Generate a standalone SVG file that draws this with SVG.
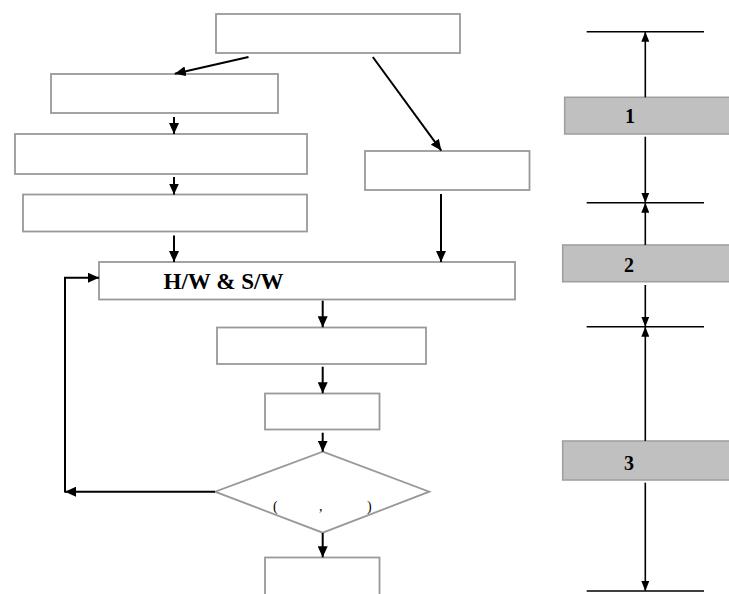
<svg xmlns="http://www.w3.org/2000/svg" width="729" height="594" viewBox="0 0 729 594">
<style>
.box{fill:#ffffff;stroke:#999999;stroke-width:1.8}
.gbox{fill:#c0c0c0;stroke:#a0a0a0;stroke-width:1.6}
.c{fill:none;stroke:#000000;stroke-width:2}
.cr{fill:none;stroke:#000000;stroke-width:1.6}
.t{font-family:"Liberation Serif","Times New Roman",serif;font-weight:bold;fill:#000000}
.tn{font-family:"Liberation Serif","Times New Roman",serif;font-weight:normal;fill:#000000}
</style>
<defs>
<marker id="ah" markerUnits="userSpaceOnUse" markerWidth="11" markerHeight="10" refX="11" refY="5" orient="auto">
<path d="M0,0 L11,5 L0,10 z" fill="#000000"/>
</marker>
<marker id="ahr" markerUnits="userSpaceOnUse" markerWidth="10" markerHeight="8" refX="10" refY="4" orient="auto">
<path d="M0,0 L10,4 L0,8 z" fill="#000000"/>
</marker>
</defs>
<rect width="729" height="594" fill="#ffffff"/>

<g id="node-top"><rect class="box" x="216" y="14" width="244" height="39"/></g>
<g id="node-a"><rect class="box" x="51" y="74" width="227" height="39"/></g>
<g id="node-b"><rect class="box" x="15" y="134" width="292" height="40"/></g>
<g id="node-c"><rect class="box" x="23" y="194.5" width="284" height="37"/></g>
<g id="node-r"><rect class="box" x="365" y="151" width="164.5" height="39"/></g>
<g id="node-hw"><rect class="box" x="99" y="262" width="416" height="37.5"/>
<text class="t" x="163.5" y="288.5" font-size="23" textLength="120" lengthAdjust="spacingAndGlyphs">H/W &amp; S/W</text></g>
<g id="node-d"><rect class="box" x="217" y="327.5" width="209" height="36.5"/></g>
<g id="node-e"><rect class="box" x="265" y="393.5" width="114.5" height="36"/></g>
<g id="node-decision"><polygon class="box" points="322.7,451.7 429.3,491.7 322.7,532.7 215,491.7"/>
<text class="tn" font-size="14" y="511"><tspan x="273">(</tspan><tspan x="319">,</tspan><tspan x="367">)</tspan></text></g>
<g id="node-f"><rect class="box" x="265" y="557.5" width="114.5" height="50"/></g>

<g id="node-1"><rect class="gbox" x="564.7" y="97.3" width="170" height="36.7"/>
<text class="t" x="630" y="123" font-size="20" text-anchor="middle">1</text></g>
<g id="node-2"><rect class="gbox" x="562.7" y="245" width="172" height="36.7"/>
<text class="t" x="629" y="271.5" font-size="20" text-anchor="middle">2</text></g>
<g id="node-3"><rect class="gbox" x="562.7" y="441" width="172" height="39"/>
<text class="t" x="629" y="470" font-size="20" text-anchor="middle">3</text></g>

<g id="connectors">
<line class="c" x1="248.5" y1="57" x2="174.8" y2="73.7" marker-end="url(#ah)"/>
<line class="c" x1="372.8" y1="57" x2="441.3" y2="150.6" marker-end="url(#ah)"/>
<line class="c" x1="174" y1="117" x2="174" y2="134" marker-end="url(#ah)"/>
<line class="c" x1="174" y1="177" x2="174" y2="194.5" marker-end="url(#ah)"/>
<line class="c" x1="174" y1="235.4" x2="174" y2="262" marker-end="url(#ah)"/>
<line class="c" x1="441" y1="194" x2="441" y2="262" marker-end="url(#ah)"/>
<line class="c" x1="322.7" y1="300.7" x2="322.7" y2="327.3" marker-end="url(#ah)"/>
<line class="c" x1="322.7" y1="366.7" x2="322.7" y2="393.3" marker-end="url(#ah)"/>
<line class="c" x1="322.7" y1="432.7" x2="322.7" y2="451.7" marker-end="url(#ah)"/>
<line class="c" x1="322.7" y1="533" x2="322.7" y2="557.3" marker-end="url(#ah)"/>
<line class="c" x1="215" y1="491.7" x2="65" y2="491.7" marker-end="url(#ah)"/>
<polyline class="c" points="65,492.5 65,277.7 99,277.7" marker-end="url(#ah)"/>

<line class="cr" x1="586.7" y1="31.7" x2="704" y2="31.7"/>
<line class="cr" x1="586.7" y1="202.7" x2="704" y2="202.7"/>
<line class="cr" x1="586.7" y1="326.7" x2="704" y2="326.7"/>
<line class="cr" x1="586.7" y1="591" x2="704" y2="591"/>
<line class="cr" x1="645.3" y1="97.3" x2="645.3" y2="31.7" marker-end="url(#ahr)"/>
<line class="cr" x1="645.3" y1="136.7" x2="645.3" y2="202.7" marker-end="url(#ahr)"/>
<line class="cr" x1="645.3" y1="245" x2="645.3" y2="202.7" marker-end="url(#ahr)"/>
<line class="cr" x1="645.3" y1="285" x2="645.3" y2="326.7" marker-end="url(#ahr)"/>
<line class="cr" x1="645.3" y1="441" x2="645.3" y2="326.7" marker-end="url(#ahr)"/>
<line class="cr" x1="645.3" y1="482.7" x2="645.3" y2="591" marker-end="url(#ahr)"/>
</g>
</svg>
